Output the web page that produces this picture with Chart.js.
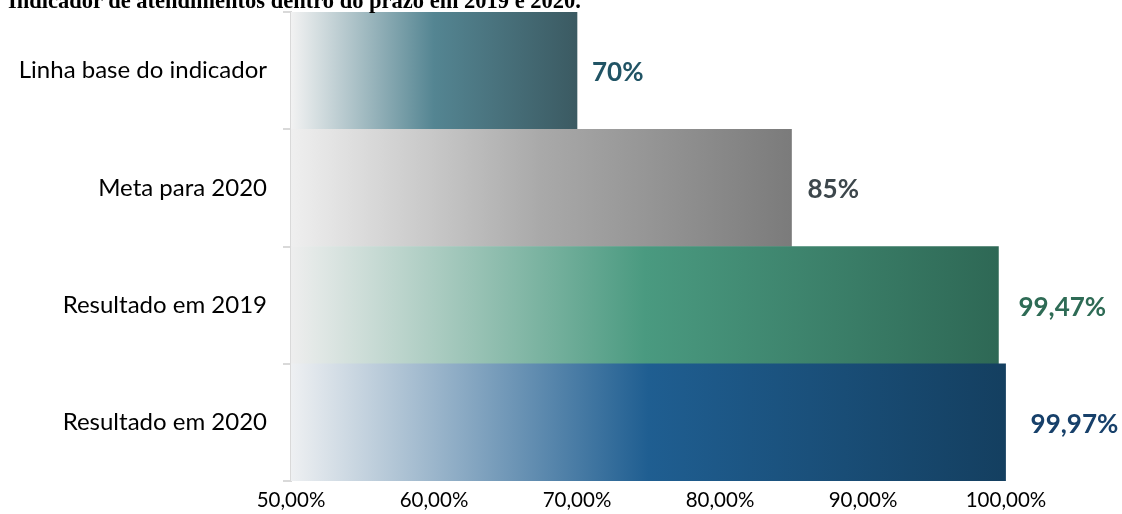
<!DOCTYPE html>
<html>
<head>
<meta charset="utf-8">
<script src="https://cdn.jsdelivr.net/npm/chart.js@4"></script>
<style>
    body { margin: 0; background: #fff; }
    #wrap { position: relative; width: 1122px; height: 514px; overflow: hidden; }
    #title {
        position: absolute; left: 8px; top: -10px; white-space: nowrap; line-height: 1;
        font-family: "Liberation Serif", serif; font-weight: bold; font-size: 22.5px; color: #000;
    }
    canvas { position: absolute; left: 0; top: 0; }
</style>
</head>
<body>
<div id="wrap">
    <canvas id="chart" width="1122" height="514"></canvas>
    <div id="title">Indicador de atendimentos dentro do prazo em 2019 e 2020.</div>
</div>
<script>
const categories = ['Linha base do indicador', 'Meta para 2020', 'Resultado em 2019', 'Resultado em 2020'];
const values = [70, 85, 99.47, 99.97];
const xTicks = [50, 60, 70, 80, 90, 100];

// gradient stops per bar (left -> right)
const barStops = [
    ['#f2f2f2', '#548592', '#3b5a62'],
    ['#efefef', '#a9a9a9', '#7b7b7b'],
    ['#eeeeee', '#4a9a80', '#2e6855'],
    ['#eef0f2', '#1f5e91', '#143f60']
];
const labelColors = ['#215465', '#3d474c', '#2e6b55', '#17406a'];
const labelGap = [15, 16, 20, 25];

function formatValue(v) {
    if (Number.isInteger(v)) return v + '%';
    return v.toFixed(2).replace('.', ',') + '%';
}

const valueLabels = {
    id: 'valueLabels',
    afterDatasetsDraw(chart) {
        const ctx = chart.ctx;
        const meta = chart.getDatasetMeta(0);
        ctx.save();
        ctx.font = 'bold 26px Lato';
        ctx.textBaseline = 'middle';
        ctx.textAlign = 'left';
        meta.data.forEach((bar, i) => {
            ctx.fillStyle = labelColors[i];
            ctx.fillText(formatValue(values[i]), bar.x + labelGap[i], bar.y + 2);
        });
        ctx.restore();
    }
};

const ctx = document.getElementById('chart').getContext('2d');
new Chart(ctx, {
    type: 'bar',
    data: {
        labels: categories,
        datasets: [{
            data: values,
            backgroundColor: function (context) {
                const i = context.dataIndex;
                if (i === undefined) return '#888';
                const chart = context.chart;
                if (!chart.chartArea) return barStops[i][1];
                const xs = chart.scales.x;
                const x0 = xs.getPixelForValue(xs.min);
                const x1 = xs.getPixelForValue(values[i]);
                const g = chart.ctx.createLinearGradient(x0, 0, x1, 0);
                g.addColorStop(0, barStops[i][0]);
                g.addColorStop(0.5, barStops[i][1]);
                g.addColorStop(1, barStops[i][2]);
                return g;
            },
            borderWidth: 0,
            barPercentage: 1,
            categoryPercentage: 1
        }]
    },
    options: {
        indexAxis: 'y',
        responsive: false,
        animation: false,
        layout: { padding: { top: 12, right: 116, left: 0, bottom: 0 } },
        plugins: {
            legend: { display: false },
            tooltip: { enabled: false }
        },
        scales: {
            x: {
                min: 50,
                max: 100,
                afterBuildTicks: scale => { scale.ticks = xTicks.map(v => ({ value: v })); },
                afterFit: scale => {
                    scale.height = 33;
                    scale.paddingLeft = 0;
                    scale.paddingRight = 0;
                },
                grid: { display: false, drawTicks: false },
                border: { display: false },
                ticks: {
                    padding: 7,
                    color: '#000',
                    font: { family: 'Lato', size: 20.5 },
                    maxRotation: 0,
                    callback: v => v.toFixed(2).replace('.', ',') + '%'
                }
            },
            y: {
                afterFit: scale => {
                    scale.width = 291;
                    scale.paddingTop = 0;
                    scale.paddingBottom = 0;
                },
                grid: { drawOnChartArea: false, drawTicks: true, tickLength: 8, color: '#d9d9d9', lineWidth: 2, offset: true },
                border: { display: true, color: '#d9d9d9', width: 2 },
                ticks: {
                    padding: 16,
                    color: '#000',
                    font: { family: 'Lato', size: 24 }
                }
            }
        }
    },
    plugins: [valueLabels]
});
</script>
</body>
</html>
